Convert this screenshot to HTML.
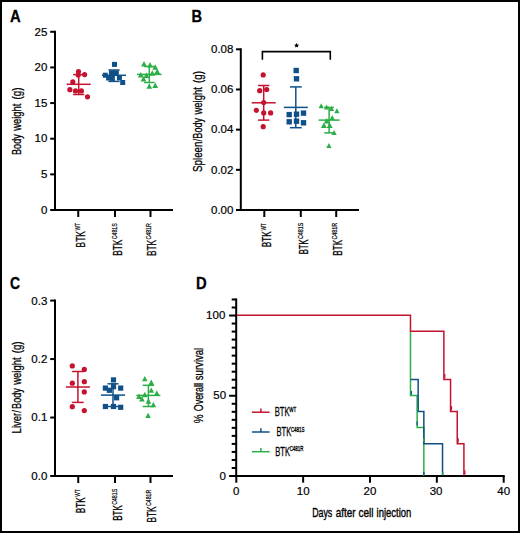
<!DOCTYPE html>
<html><head><meta charset="utf-8"><style>
html,body{margin:0;padding:0;background:#fff;}
svg{display:block;}
text{font-family:"Liberation Sans",sans-serif;fill:#000;}
.c{stroke:#000;stroke-width:0.45px;}
</style></head><body>
<svg width="520" height="533" viewBox="0 0 520 533">
<rect width="520" height="533" fill="#fff"/>
<rect x="1" y="1" width="518" height="531" fill="none" stroke="#000" stroke-width="2"/>
<text transform="translate(9.9,21.6) scale(0.87,1)" font-size="17" font-weight="bold" stroke="#000" stroke-width="0.3">A</text>
<text transform="translate(191.6,21.6) scale(0.86,1)" font-size="17" font-weight="bold" stroke="#000" stroke-width="0.3">B</text>
<text transform="translate(10.1,289.1) scale(0.82,1)" font-size="17" font-weight="bold" stroke="#000" stroke-width="0.3">C</text>
<text transform="translate(195.9,288.5) scale(0.87,1)" font-size="17" font-weight="bold" stroke="#000" stroke-width="0.3">D</text>
<line x1="55" y1="30.8" x2="55" y2="211" stroke="#000" stroke-width="2"/>
<line x1="54" y1="210" x2="173" y2="210" stroke="#000" stroke-width="2"/>
<line x1="50.2" y1="210.0" x2="55" y2="210.0" stroke="#000" stroke-width="2"/>
<text x="47.3" y="213.9" font-size="11.5" text-anchor="end" font-weight="normal" stroke="#000" stroke-width="0.2">0</text>
<line x1="50.2" y1="174.36" x2="55" y2="174.36" stroke="#000" stroke-width="2"/>
<text x="47.3" y="178.26000000000002" font-size="11.5" text-anchor="end" font-weight="normal" stroke="#000" stroke-width="0.2">5</text>
<line x1="50.2" y1="138.72" x2="55" y2="138.72" stroke="#000" stroke-width="2"/>
<text x="47.3" y="142.2" font-size="11.5" text-anchor="end" font-weight="normal" stroke="#000" stroke-width="0.2">10</text>
<line x1="50.2" y1="103.08" x2="55" y2="103.08" stroke="#000" stroke-width="2"/>
<text x="47.3" y="106.98" font-size="11.5" text-anchor="end" font-weight="normal" stroke="#000" stroke-width="0.2">15</text>
<line x1="50.2" y1="67.44" x2="55" y2="67.44" stroke="#000" stroke-width="2"/>
<text x="47.3" y="71.34" font-size="11.5" text-anchor="end" font-weight="normal" stroke="#000" stroke-width="0.2">20</text>
<line x1="50.2" y1="31.80000000000001" x2="55" y2="31.80000000000001" stroke="#000" stroke-width="2"/>
<text x="47.3" y="35.70000000000001" font-size="11.5" text-anchor="end" font-weight="normal" stroke="#000" stroke-width="0.2">25</text>
<line x1="78.25" y1="210" x2="78.25" y2="217" stroke="#000" stroke-width="2"/>
<line x1="115" y1="210" x2="115" y2="217" stroke="#000" stroke-width="2"/>
<line x1="150.5" y1="210" x2="150.5" y2="217" stroke="#000" stroke-width="2"/>
<text transform="translate(21.2,154.94) rotate(-90)" font-size="13.5" font-weight="normal" text-anchor="start" textLength="20.66" lengthAdjust="spacingAndGlyphs" stroke="#000" stroke-width="0.3">Body</text>
<text transform="translate(21.2,130.79) rotate(-90)" font-size="13.5" font-weight="normal" text-anchor="start" textLength="27.26" lengthAdjust="spacingAndGlyphs" stroke="#000" stroke-width="0.3">weight</text>
<text transform="translate(21.2,99.4) rotate(-90)" font-size="13.5" font-weight="normal" text-anchor="start" textLength="11.91" lengthAdjust="spacingAndGlyphs" stroke="#000" stroke-width="0.3">(g)</text>
<text transform="translate(85.0,247.38) rotate(-90)" font-size="13.0" font-weight="normal" text-anchor="start" textLength="16.18" lengthAdjust="spacingAndGlyphs" stroke="#000" stroke-width="0.3">BTK</text>
<text transform="translate(80.0,230.62) rotate(-90)" font-size="7.0" font-weight="normal" text-anchor="start" textLength="7.63" lengthAdjust="spacingAndGlyphs" stroke="#000" stroke-width="0.2">WT</text>
<text transform="translate(121.8,255.68) rotate(-90)" font-size="13.0" font-weight="normal" text-anchor="start" textLength="16.07" lengthAdjust="spacingAndGlyphs" stroke="#000" stroke-width="0.3">BTK</text>
<text transform="translate(116.8,239.27) rotate(-90)" font-size="7.0" font-weight="normal" text-anchor="start" textLength="16.01" lengthAdjust="spacingAndGlyphs" stroke="#000" stroke-width="0.2">C481S</text>
<text transform="translate(155.9,256.08) rotate(-90)" font-size="13.0" font-weight="normal" text-anchor="start" textLength="16.18" lengthAdjust="spacingAndGlyphs" stroke="#000" stroke-width="0.3">BTK</text>
<text transform="translate(150.9,239.57) rotate(-90)" font-size="7.0" font-weight="normal" text-anchor="start" textLength="16.31" lengthAdjust="spacingAndGlyphs" stroke="#000" stroke-width="0.2">C481R</text>
<line x1="78.7" y1="74.6" x2="78.7" y2="94.5" stroke="#C5132F" stroke-width="1.5"/>
<line x1="73.10000000000001" y1="74.6" x2="84.3" y2="74.6" stroke="#C5132F" stroke-width="1.5"/>
<line x1="73.10000000000001" y1="94.5" x2="84.3" y2="94.5" stroke="#C5132F" stroke-width="1.5"/>
<line x1="66.7" y1="84.3" x2="90.7" y2="84.3" stroke="#C5132F" stroke-width="1.5"/>
<circle cx="78.5" cy="71.6" r="2.6" fill="#C5132F"/>
<circle cx="78.2" cy="75.1" r="2.6" fill="#C5132F"/>
<circle cx="84.6" cy="74.6" r="2.6" fill="#C5132F"/>
<circle cx="72.8" cy="81.9" r="2.6" fill="#C5132F"/>
<circle cx="69.9" cy="89.7" r="2.6" fill="#C5132F"/>
<circle cx="75.5" cy="90.9" r="2.6" fill="#C5132F"/>
<circle cx="81.4" cy="90.9" r="2.6" fill="#C5132F"/>
<circle cx="87.5" cy="96.8" r="2.6" fill="#C5132F"/>
<line x1="114" y1="70" x2="114" y2="81.4" stroke="#0F5088" stroke-width="1.5"/>
<line x1="108.4" y1="70" x2="119.6" y2="70" stroke="#0F5088" stroke-width="1.5"/>
<line x1="108.4" y1="81.4" x2="119.6" y2="81.4" stroke="#0F5088" stroke-width="1.5"/>
<line x1="102.0" y1="75.3" x2="126.0" y2="75.3" stroke="#0F5088" stroke-width="1.5"/>
<rect x="112.00" y="61.90" width="5.0" height="5.0" fill="#0F5088"/>
<rect x="102.80" y="72.70" width="5.0" height="5.0" fill="#0F5088"/>
<rect x="109.00" y="70.40" width="5.0" height="5.0" fill="#0F5088"/>
<rect x="113.80" y="70.40" width="5.0" height="5.0" fill="#0F5088"/>
<rect x="109.50" y="75.90" width="5.0" height="5.0" fill="#0F5088"/>
<rect x="116.90" y="75.40" width="5.0" height="5.0" fill="#0F5088"/>
<rect x="120.20" y="80.00" width="5.0" height="5.0" fill="#0F5088"/>
<rect x="106.10" y="75.50" width="5.0" height="5.0" fill="#0F5088"/>
<line x1="149.3" y1="66.5" x2="149.3" y2="82.5" stroke="#2BAE45" stroke-width="1.5"/>
<line x1="144.05" y1="66.5" x2="154.55" y2="66.5" stroke="#2BAE45" stroke-width="1.5"/>
<line x1="144.05" y1="82.5" x2="154.55" y2="82.5" stroke="#2BAE45" stroke-width="1.5"/>
<line x1="137.0" y1="74.4" x2="161.60000000000002" y2="74.4" stroke="#2BAE45" stroke-width="1.5"/>
<polygon points="144,61.0 141.10,66.5 146.90,66.5" fill="#2BAE45"/>
<polygon points="150,62.0 147.10,67.5 152.90,67.5" fill="#2BAE45"/>
<polygon points="155.2,64.3 152.30,69.8 158.10,69.8" fill="#2BAE45"/>
<polygon points="157.2,68.6 154.30,74.1 160.10,74.1" fill="#2BAE45"/>
<polygon points="152.3,70.2 149.40,75.7 155.20,75.7" fill="#2BAE45"/>
<polygon points="140.8,72.0 137.90,77.5 143.70,77.5" fill="#2BAE45"/>
<polygon points="146.4,72.6 143.50,78.1 149.30,78.1" fill="#2BAE45"/>
<polygon points="143.5,76.0 140.60,81.5 146.40,81.5" fill="#2BAE45"/>
<polygon points="149.3,83.2 146.40,88.7 152.20,88.7" fill="#2BAE45"/>
<polygon points="155.2,82.4 152.30,87.9 158.10,87.9" fill="#2BAE45"/>
<line x1="240.8" y1="48.3" x2="240.8" y2="211" stroke="#000" stroke-width="2"/>
<line x1="239.8" y1="210" x2="359" y2="210" stroke="#000" stroke-width="2"/>
<line x1="236" y1="210.0" x2="240.8" y2="210.0" stroke="#000" stroke-width="2"/>
<text x="233.4" y="213.8" font-size="11.5" text-anchor="end" font-weight="normal" stroke="#000" stroke-width="0.2">0.00</text>
<line x1="236" y1="169.825" x2="240.8" y2="169.825" stroke="#000" stroke-width="2"/>
<text x="233.4" y="173.625" font-size="11.5" text-anchor="end" font-weight="normal" stroke="#000" stroke-width="0.2">0.02</text>
<line x1="236" y1="129.65" x2="240.8" y2="129.65" stroke="#000" stroke-width="2"/>
<text x="233.4" y="133.45000000000002" font-size="11.5" text-anchor="end" font-weight="normal" stroke="#000" stroke-width="0.2">0.04</text>
<line x1="236" y1="89.47500000000001" x2="240.8" y2="89.47500000000001" stroke="#000" stroke-width="2"/>
<text x="233.4" y="93.275" font-size="11.5" text-anchor="end" font-weight="normal" stroke="#000" stroke-width="0.2">0.06</text>
<line x1="236" y1="49.30000000000001" x2="240.8" y2="49.30000000000001" stroke="#000" stroke-width="2"/>
<text x="233.4" y="53.10000000000001" font-size="11.5" text-anchor="end" font-weight="normal" stroke="#000" stroke-width="0.2">0.08</text>
<line x1="264.3" y1="210" x2="264.3" y2="217" stroke="#000" stroke-width="2"/>
<line x1="300.8" y1="210" x2="300.8" y2="217" stroke="#000" stroke-width="2"/>
<line x1="336.2" y1="210" x2="336.2" y2="217" stroke="#000" stroke-width="2"/>
<text transform="translate(202.4,171.94) rotate(-90)" font-size="13.5" font-weight="normal" text-anchor="start" textLength="33.14" lengthAdjust="spacingAndGlyphs" stroke="#000" stroke-width="0.3">Spleen/</text>
<text transform="translate(202.4,138.65) rotate(-90)" font-size="13.5" font-weight="normal" text-anchor="start" textLength="20.77" lengthAdjust="spacingAndGlyphs" stroke="#000" stroke-width="0.3">Body</text>
<text transform="translate(202.4,114.49) rotate(-90)" font-size="13.5" font-weight="normal" text-anchor="start" textLength="27.36" lengthAdjust="spacingAndGlyphs" stroke="#000" stroke-width="0.3">weight</text>
<text transform="translate(202.4,82.9) rotate(-90)" font-size="13.5" font-weight="normal" text-anchor="start" textLength="11.91" lengthAdjust="spacingAndGlyphs" stroke="#000" stroke-width="0.3">(g)</text>
<text transform="translate(270.7,247.27) rotate(-90)" font-size="13.0" font-weight="normal" text-anchor="start" textLength="15.86" lengthAdjust="spacingAndGlyphs" stroke="#000" stroke-width="0.3">BTK</text>
<text transform="translate(265.7,230.52) rotate(-90)" font-size="7.0" font-weight="normal" text-anchor="start" textLength="7.23" lengthAdjust="spacingAndGlyphs" stroke="#000" stroke-width="0.2">WT</text>
<text transform="translate(307.7,254.22) rotate(-90)" font-size="13.0" font-weight="normal" text-anchor="start" textLength="14.81" lengthAdjust="spacingAndGlyphs" stroke="#000" stroke-width="0.3">BTK</text>
<text transform="translate(302.7,239.07) rotate(-90)" font-size="7.0" font-weight="normal" text-anchor="start" textLength="16.52" lengthAdjust="spacingAndGlyphs" stroke="#000" stroke-width="0.2">C481S</text>
<text transform="translate(341.9,255.66) rotate(-90)" font-size="13.0" font-weight="normal" text-anchor="start" textLength="15.76" lengthAdjust="spacingAndGlyphs" stroke="#000" stroke-width="0.3">BTK</text>
<text transform="translate(336.9,239.57) rotate(-90)" font-size="7.0" font-weight="normal" text-anchor="start" textLength="16.72" lengthAdjust="spacingAndGlyphs" stroke="#000" stroke-width="0.2">C481R</text>
<polyline points="262.4,59.8 262.4,51.6 330.3,51.6 330.3,59.8" fill="none" stroke="#000" stroke-width="1.6" stroke-linejoin="miter" stroke-linecap="butt"/>
<polygon points="296.60,43.00 297.36,44.45 298.98,44.73 297.84,45.90 298.07,47.52 296.60,46.80 295.13,47.52 295.36,45.90 294.22,44.73 295.84,44.45" fill="#000"/>
<line x1="263.7" y1="85.5" x2="263.7" y2="120.1" stroke="#C5132F" stroke-width="1.5"/>
<line x1="258.05" y1="85.5" x2="269.34999999999997" y2="85.5" stroke="#C5132F" stroke-width="1.5"/>
<line x1="258.05" y1="120.1" x2="269.34999999999997" y2="120.1" stroke="#C5132F" stroke-width="1.5"/>
<line x1="251.7" y1="102.8" x2="275.7" y2="102.8" stroke="#C5132F" stroke-width="1.5"/>
<circle cx="263.2" cy="74.9" r="2.6" fill="#C5132F"/>
<circle cx="259.7" cy="90.7" r="2.6" fill="#C5132F"/>
<circle cx="266.7" cy="89.5" r="2.6" fill="#C5132F"/>
<circle cx="263.7" cy="102.5" r="2.6" fill="#C5132F"/>
<circle cx="256.3" cy="110.3" r="2.6" fill="#C5132F"/>
<circle cx="263.7" cy="112.9" r="2.6" fill="#C5132F"/>
<circle cx="270.6" cy="112.9" r="2.6" fill="#C5132F"/>
<circle cx="263.2" cy="126.7" r="2.6" fill="#C5132F"/>
<line x1="295.8" y1="86.9" x2="295.8" y2="127.7" stroke="#0F5088" stroke-width="1.5"/>
<line x1="289.90000000000003" y1="86.9" x2="301.7" y2="86.9" stroke="#0F5088" stroke-width="1.5"/>
<line x1="289.90000000000003" y1="127.7" x2="301.7" y2="127.7" stroke="#0F5088" stroke-width="1.5"/>
<line x1="283.8" y1="107.4" x2="307.8" y2="107.4" stroke="#0F5088" stroke-width="1.5"/>
<rect x="293.50" y="67.80" width="5.4" height="5.4" fill="#0F5088"/>
<rect x="293.80" y="76.10" width="5.4" height="5.4" fill="#0F5088"/>
<rect x="286.50" y="111.90" width="5.4" height="5.4" fill="#0F5088"/>
<rect x="293.80" y="111.50" width="5.4" height="5.4" fill="#0F5088"/>
<rect x="300.80" y="110.40" width="5.4" height="5.4" fill="#0F5088"/>
<rect x="286.50" y="119.10" width="5.4" height="5.4" fill="#0F5088"/>
<rect x="293.80" y="118.50" width="5.4" height="5.4" fill="#0F5088"/>
<rect x="300.80" y="120.10" width="5.4" height="5.4" fill="#0F5088"/>
<line x1="329.1" y1="107.4" x2="329.1" y2="132.9" stroke="#2BAE45" stroke-width="1.5"/>
<line x1="324.3" y1="107.4" x2="333.90000000000003" y2="107.4" stroke="#2BAE45" stroke-width="1.5"/>
<line x1="324.3" y1="132.9" x2="333.90000000000003" y2="132.9" stroke="#2BAE45" stroke-width="1.5"/>
<line x1="318.55" y1="120.1" x2="339.65000000000003" y2="120.1" stroke="#2BAE45" stroke-width="1.5"/>
<polygon points="321.2,103.2 318.60,108.2 323.80,108.2" fill="#2BAE45"/>
<polygon points="326.6,104.6 324.00,109.6 329.20,109.6" fill="#2BAE45"/>
<polygon points="331.5,106.0 328.90,111.0 334.10,111.0" fill="#2BAE45"/>
<polygon points="336.9,108.3 334.30,113.3 339.50,113.3" fill="#2BAE45"/>
<polygon points="332.2,114.9 329.60,119.9 334.80,119.9" fill="#2BAE45"/>
<polygon points="334.1,129.9 331.50,134.9 336.70,134.9" fill="#2BAE45"/>
<polygon points="328.9,143.1 326.30,148.1 331.50,148.1" fill="#2BAE45"/>
<polygon points="326.8,117.9 323.80,123.5 329.80,123.5" fill="#2BAE45"/>
<polygon points="323.9,122.5 320.90,128.1 326.90,128.1" fill="#2BAE45"/>
<polygon points="329.7,122.5 326.70,128.1 332.70,128.1" fill="#2BAE45"/>
<line x1="55" y1="299.6" x2="55" y2="477" stroke="#000" stroke-width="2"/>
<line x1="54" y1="476" x2="173" y2="476" stroke="#000" stroke-width="2"/>
<line x1="50.2" y1="476.0" x2="55" y2="476.0" stroke="#000" stroke-width="2"/>
<text x="47.3" y="479.9" font-size="11.5" text-anchor="end" font-weight="normal" stroke="#000" stroke-width="0.2">0.0</text>
<line x1="50.2" y1="417.53333333333336" x2="55" y2="417.53333333333336" stroke="#000" stroke-width="2"/>
<text x="47.3" y="421.43333333333334" font-size="11.5" text-anchor="end" font-weight="normal" stroke="#000" stroke-width="0.2">0.1</text>
<line x1="50.2" y1="359.06666666666666" x2="55" y2="359.06666666666666" stroke="#000" stroke-width="2"/>
<text x="47.3" y="362.96666666666664" font-size="11.5" text-anchor="end" font-weight="normal" stroke="#000" stroke-width="0.2">0.2</text>
<line x1="50.2" y1="300.6" x2="55" y2="300.6" stroke="#000" stroke-width="2"/>
<text x="47.3" y="304.5" font-size="11.5" text-anchor="end" font-weight="normal" stroke="#000" stroke-width="0.2">0.3</text>
<line x1="78.25" y1="476" x2="78.25" y2="483" stroke="#000" stroke-width="2"/>
<line x1="115" y1="476" x2="115" y2="483" stroke="#000" stroke-width="2"/>
<line x1="150.5" y1="476" x2="150.5" y2="483" stroke="#000" stroke-width="2"/>
<text transform="translate(21.2,433.38) rotate(-90)" font-size="13.5" font-weight="normal" text-anchor="start" textLength="23.18" lengthAdjust="spacingAndGlyphs" stroke="#000" stroke-width="0.3">Liver/</text>
<text transform="translate(21.2,408.95) rotate(-90)" font-size="13.5" font-weight="normal" text-anchor="start" textLength="20.77" lengthAdjust="spacingAndGlyphs" stroke="#000" stroke-width="0.3">Body</text>
<text transform="translate(21.2,384.69) rotate(-90)" font-size="13.5" font-weight="normal" text-anchor="start" textLength="27.26" lengthAdjust="spacingAndGlyphs" stroke="#000" stroke-width="0.3">weight</text>
<text transform="translate(21.2,353.3) rotate(-90)" font-size="13.5" font-weight="normal" text-anchor="start" textLength="11.91" lengthAdjust="spacingAndGlyphs" stroke="#000" stroke-width="0.3">(g)</text>
<text transform="translate(85.2,513.27) rotate(-90)" font-size="13.0" font-weight="normal" text-anchor="start" textLength="15.86" lengthAdjust="spacingAndGlyphs" stroke="#000" stroke-width="0.3">BTK</text>
<text transform="translate(80.2,496.72) rotate(-90)" font-size="7.0" font-weight="normal" text-anchor="start" textLength="7.43" lengthAdjust="spacingAndGlyphs" stroke="#000" stroke-width="0.2">WT</text>
<text transform="translate(121.7,520.76) rotate(-90)" font-size="13.0" font-weight="normal" text-anchor="start" textLength="15.65" lengthAdjust="spacingAndGlyphs" stroke="#000" stroke-width="0.3">BTK</text>
<text transform="translate(116.7,504.87) rotate(-90)" font-size="7.0" font-weight="normal" text-anchor="start" textLength="16.11" lengthAdjust="spacingAndGlyphs" stroke="#000" stroke-width="0.2">C481S</text>
<text transform="translate(156.1,522.58) rotate(-90)" font-size="13.0" font-weight="normal" text-anchor="start" textLength="16.18" lengthAdjust="spacingAndGlyphs" stroke="#000" stroke-width="0.3">BTK</text>
<text transform="translate(151.1,506.07) rotate(-90)" font-size="7.0" font-weight="normal" text-anchor="start" textLength="16.31" lengthAdjust="spacingAndGlyphs" stroke="#000" stroke-width="0.2">C481R</text>
<line x1="77.9" y1="371.5" x2="77.9" y2="402.4" stroke="#C5132F" stroke-width="1.5"/>
<line x1="72.10000000000001" y1="371.5" x2="83.7" y2="371.5" stroke="#C5132F" stroke-width="1.5"/>
<line x1="72.10000000000001" y1="402.4" x2="83.7" y2="402.4" stroke="#C5132F" stroke-width="1.5"/>
<line x1="65.9" y1="387.0" x2="89.9" y2="387.0" stroke="#C5132F" stroke-width="1.5"/>
<circle cx="72.3" cy="365.9" r="2.6" fill="#C5132F"/>
<circle cx="84.3" cy="369.4" r="2.6" fill="#C5132F"/>
<circle cx="72.3" cy="383.2" r="2.6" fill="#C5132F"/>
<circle cx="84.3" cy="381.7" r="2.6" fill="#C5132F"/>
<circle cx="84.3" cy="391.9" r="2.6" fill="#C5132F"/>
<circle cx="72.3" cy="406.7" r="2.6" fill="#C5132F"/>
<circle cx="84.3" cy="410.6" r="2.6" fill="#C5132F"/>
<line x1="113" y1="383.8" x2="113" y2="406.5" stroke="#0F5088" stroke-width="1.5"/>
<line x1="107.45" y1="383.8" x2="118.55" y2="383.8" stroke="#0F5088" stroke-width="1.5"/>
<line x1="107.45" y1="406.5" x2="118.55" y2="406.5" stroke="#0F5088" stroke-width="1.5"/>
<line x1="100.9" y1="395.1" x2="125.1" y2="395.1" stroke="#0F5088" stroke-width="1.5"/>
<rect x="110.90" y="377.30" width="5.2" height="5.2" fill="#0F5088"/>
<rect x="102.80" y="385.50" width="5.2" height="5.2" fill="#0F5088"/>
<rect x="110.90" y="384.10" width="5.2" height="5.2" fill="#0F5088"/>
<rect x="118.10" y="385.50" width="5.2" height="5.2" fill="#0F5088"/>
<rect x="106.80" y="387.70" width="5.2" height="5.2" fill="#0F5088"/>
<rect x="114.00" y="395.20" width="5.2" height="5.2" fill="#0F5088"/>
<rect x="102.80" y="403.90" width="5.2" height="5.2" fill="#0F5088"/>
<rect x="110.90" y="403.90" width="5.2" height="5.2" fill="#0F5088"/>
<rect x="118.10" y="404.70" width="5.2" height="5.2" fill="#0F5088"/>
<line x1="148.4" y1="385.3" x2="148.4" y2="406.5" stroke="#2BAE45" stroke-width="1.5"/>
<line x1="142.70000000000002" y1="385.3" x2="154.1" y2="385.3" stroke="#2BAE45" stroke-width="1.5"/>
<line x1="142.70000000000002" y1="406.5" x2="154.1" y2="406.5" stroke="#2BAE45" stroke-width="1.5"/>
<line x1="136.4" y1="395.4" x2="160.4" y2="395.4" stroke="#2BAE45" stroke-width="1.5"/>
<polygon points="144.8,375.9 142.00,381.29999999999995 147.60,381.29999999999995" fill="#2BAE45"/>
<polygon points="151.3,379.5 148.50,384.9 154.10,384.9" fill="#2BAE45"/>
<polygon points="151.3,387.4 148.50,392.79999999999995 154.10,392.79999999999995" fill="#2BAE45"/>
<polygon points="156.8,390.3 154.00,395.7 159.60,395.7" fill="#2BAE45"/>
<polygon points="144.8,391.8 142.00,397.2 147.60,397.2" fill="#2BAE45"/>
<polygon points="139,393.5 136.20,398.9 141.80,398.9" fill="#2BAE45"/>
<polygon points="141.9,396.1 139.10,401.5 144.70,401.5" fill="#2BAE45"/>
<polygon points="148.4,398.3 145.60,403.7 151.20,403.7" fill="#2BAE45"/>
<polygon points="153.4,401.9 150.60,407.29999999999995 156.20,407.29999999999995" fill="#2BAE45"/>
<polygon points="148.1,412.7 145.30,418.09999999999997 150.90,418.09999999999997" fill="#2BAE45"/>
<line x1="236.2" y1="298.472" x2="236.2" y2="477" stroke="#000" stroke-width="2"/>
<line x1="235.2" y1="476" x2="504.7" y2="476" stroke="#000" stroke-width="2"/>
<line x1="229.1" y1="476.0" x2="236.2" y2="476.0" stroke="#000" stroke-width="2"/>
<line x1="231.7" y1="467.976" x2="236.2" y2="467.976" stroke="#000" stroke-width="2"/>
<line x1="231.7" y1="459.952" x2="236.2" y2="459.952" stroke="#000" stroke-width="2"/>
<line x1="231.7" y1="451.928" x2="236.2" y2="451.928" stroke="#000" stroke-width="2"/>
<line x1="231.7" y1="443.904" x2="236.2" y2="443.904" stroke="#000" stroke-width="2"/>
<line x1="231.7" y1="435.88" x2="236.2" y2="435.88" stroke="#000" stroke-width="2"/>
<line x1="231.7" y1="427.856" x2="236.2" y2="427.856" stroke="#000" stroke-width="2"/>
<line x1="231.7" y1="419.832" x2="236.2" y2="419.832" stroke="#000" stroke-width="2"/>
<line x1="231.7" y1="411.808" x2="236.2" y2="411.808" stroke="#000" stroke-width="2"/>
<line x1="231.7" y1="403.784" x2="236.2" y2="403.784" stroke="#000" stroke-width="2"/>
<line x1="229.1" y1="395.76" x2="236.2" y2="395.76" stroke="#000" stroke-width="2"/>
<line x1="231.7" y1="387.736" x2="236.2" y2="387.736" stroke="#000" stroke-width="2"/>
<line x1="231.7" y1="379.712" x2="236.2" y2="379.712" stroke="#000" stroke-width="2"/>
<line x1="231.7" y1="371.688" x2="236.2" y2="371.688" stroke="#000" stroke-width="2"/>
<line x1="231.7" y1="363.664" x2="236.2" y2="363.664" stroke="#000" stroke-width="2"/>
<line x1="231.7" y1="355.64" x2="236.2" y2="355.64" stroke="#000" stroke-width="2"/>
<line x1="231.7" y1="347.616" x2="236.2" y2="347.616" stroke="#000" stroke-width="2"/>
<line x1="231.7" y1="339.592" x2="236.2" y2="339.592" stroke="#000" stroke-width="2"/>
<line x1="231.7" y1="331.568" x2="236.2" y2="331.568" stroke="#000" stroke-width="2"/>
<line x1="231.7" y1="323.544" x2="236.2" y2="323.544" stroke="#000" stroke-width="2"/>
<line x1="229.1" y1="315.52" x2="236.2" y2="315.52" stroke="#000" stroke-width="2"/>
<line x1="231.7" y1="307.496" x2="236.2" y2="307.496" stroke="#000" stroke-width="2"/>
<line x1="231.7" y1="299.472" x2="236.2" y2="299.472" stroke="#000" stroke-width="2"/>
<text x="226.0" y="479.9" font-size="11.5" text-anchor="end" font-weight="normal" stroke="#000" stroke-width="0.2">0</text>
<text x="226.1" y="399.15999999999997" font-size="11.5" text-anchor="end" font-weight="normal" stroke="#000" stroke-width="0.2">50</text>
<text x="225.3" y="318.91999999999996" font-size="11.5" text-anchor="end" font-weight="normal" stroke="#000" stroke-width="0.2">100</text>
<line x1="236.3" y1="476" x2="236.3" y2="482.7" stroke="#000" stroke-width="2"/>
<text x="236.3" y="494.8" font-size="11.5" text-anchor="middle" font-weight="normal" stroke="#000" stroke-width="0.2">0</text>
<line x1="303.15" y1="476" x2="303.15" y2="482.7" stroke="#000" stroke-width="2"/>
<text x="303.15" y="494.8" font-size="11.5" text-anchor="middle" font-weight="normal" stroke="#000" stroke-width="0.2">10</text>
<line x1="370.0" y1="476" x2="370.0" y2="482.7" stroke="#000" stroke-width="2"/>
<text x="370.0" y="494.8" font-size="11.5" text-anchor="middle" font-weight="normal" stroke="#000" stroke-width="0.2">20</text>
<line x1="436.85" y1="476" x2="436.85" y2="482.7" stroke="#000" stroke-width="2"/>
<text x="436.05" y="494.8" font-size="11.5" text-anchor="middle" font-weight="normal" stroke="#000" stroke-width="0.2">30</text>
<line x1="503.7" y1="476" x2="503.7" y2="482.7" stroke="#000" stroke-width="2"/>
<text x="503.7" y="494.8" font-size="11.5" text-anchor="middle" font-weight="normal" stroke="#000" stroke-width="0.2">40</text>
<text transform="translate(202.6,423.25) rotate(-90)" font-size="13.5" font-weight="normal" text-anchor="start" textLength="8.81" lengthAdjust="spacingAndGlyphs" stroke="#000" stroke-width="0.3">%</text>
<text transform="translate(202.6,411.22) rotate(-90)" font-size="13.5" font-weight="normal" text-anchor="start" textLength="28.22" lengthAdjust="spacingAndGlyphs" stroke="#000" stroke-width="0.3">Overall</text>
<text transform="translate(202.6,380.17) rotate(-90)" font-size="13.5" font-weight="normal" text-anchor="start" textLength="32.41" lengthAdjust="spacingAndGlyphs" stroke="#000" stroke-width="0.3">survival</text>
<text x="312.18" y="516.5" font-size="13" text-anchor="start" font-weight="normal" textLength="20.04" lengthAdjust="spacingAndGlyphs" stroke="#000" stroke-width="0.38">Days</text>
<text x="335.68" y="516.5" font-size="13" text-anchor="start" font-weight="normal" textLength="19.78" lengthAdjust="spacingAndGlyphs" stroke="#000" stroke-width="0.38">after</text>
<text x="358.47" y="516.5" font-size="13" text-anchor="start" font-weight="normal" textLength="15.1" lengthAdjust="spacingAndGlyphs" stroke="#000" stroke-width="0.38">cell</text>
<text x="376.57" y="516.5" font-size="13" text-anchor="start" font-weight="normal" textLength="34.75" lengthAdjust="spacingAndGlyphs" stroke="#000" stroke-width="0.38">injection</text>
<polyline points="410.48,331.26 410.48,395.5 417.16,395.5 417.16,427.62 423.84,427.62 423.84,475.8" fill="none" stroke="#2BAE45" stroke-width="1.5" stroke-linejoin="miter" stroke-linecap="butt"/>
<polyline points="410.81,379.44 418.16,379.44 418.16,411.56 423.84,411.56 423.84,443.68 442.54,443.68 442.54,475.8" fill="none" stroke="#0F5088" stroke-width="1.5" stroke-linejoin="miter" stroke-linecap="butt"/>
<polyline points="236.8,315.2 410.48,315.2 410.48,331.26 443.88,331.26 443.88,379.44 450.56,379.44 450.56,411.56 457.24,411.56 457.24,443.68 463.92,443.68 463.92,475.8" fill="none" stroke="#C5132F" stroke-width="1.5" stroke-linejoin="miter" stroke-linecap="butt"/>
<line x1="444.78" y1="373.94" x2="444.78" y2="378.24" stroke="#C5132F" stroke-width="1.3"/>
<line x1="451.46" y1="406.06" x2="451.46" y2="410.36" stroke="#C5132F" stroke-width="1.3"/>
<line x1="458.14" y1="438.18" x2="458.14" y2="442.48" stroke="#C5132F" stroke-width="1.3"/>
<line x1="464.82" y1="470.3" x2="464.82" y2="474.6" stroke="#C5132F" stroke-width="1.3"/>
<line x1="411.4" y1="391.0" x2="411.4" y2="394.6" stroke="#0F5088" stroke-width="1.3"/>
<line x1="417.2" y1="421.5" x2="417.2" y2="425.3" stroke="#0F5088" stroke-width="1.3"/>
<line x1="417.3" y1="407.5" x2="417.3" y2="410.6" stroke="#2BAE45" stroke-width="1.3"/>
<line x1="423.6" y1="438.2" x2="423.6" y2="441.8" stroke="#2BAE45" stroke-width="1.3"/>
<line x1="442.9" y1="472" x2="442.9" y2="475" stroke="#2BAE45" stroke-width="1.3"/>
<line x1="423.9" y1="472" x2="423.9" y2="475" stroke="#0F5088" stroke-width="1.3"/>
<line x1="251.9" y1="412.2" x2="269.6" y2="412.2" stroke="#C5132F" stroke-width="1.5"/>
<line x1="260.9" y1="412.2" x2="260.9" y2="408.4" stroke="#C5132F" stroke-width="1.5"/>
<text x="274.8" y="416.0" font-size="12.5" text-anchor="start" font-weight="normal" textLength="14.8" lengthAdjust="spacingAndGlyphs" stroke="#000" stroke-width="0.3">BTK</text>
<text x="289.2" y="411.7" font-size="7.0" text-anchor="start" font-weight="normal" textLength="7.0" lengthAdjust="spacingAndGlyphs" stroke="#000" stroke-width="0.35">WT</text>
<line x1="251.9" y1="432.0" x2="269.6" y2="432.0" stroke="#0F5088" stroke-width="1.5"/>
<line x1="260.9" y1="432.0" x2="260.9" y2="428.2" stroke="#0F5088" stroke-width="1.5"/>
<text x="276.5" y="435.8" font-size="12.5" text-anchor="start" font-weight="normal" textLength="14.8" lengthAdjust="spacingAndGlyphs" stroke="#000" stroke-width="0.3">BTK</text>
<text x="290.9" y="431.5" font-size="7.0" text-anchor="start" font-weight="normal" textLength="13.6" lengthAdjust="spacingAndGlyphs" stroke="#000" stroke-width="0.35">C481S</text>
<line x1="251.9" y1="451.7" x2="269.6" y2="451.7" stroke="#2BAE45" stroke-width="1.5"/>
<line x1="260.9" y1="451.7" x2="260.9" y2="447.9" stroke="#2BAE45" stroke-width="1.5"/>
<text x="275.3" y="455.5" font-size="12.5" text-anchor="start" font-weight="normal" textLength="14.8" lengthAdjust="spacingAndGlyphs" stroke="#000" stroke-width="0.3">BTK</text>
<text x="289.7" y="451.2" font-size="7.0" text-anchor="start" font-weight="normal" textLength="13.6" lengthAdjust="spacingAndGlyphs" stroke="#000" stroke-width="0.35">C481R</text>
</svg>
</body></html>
